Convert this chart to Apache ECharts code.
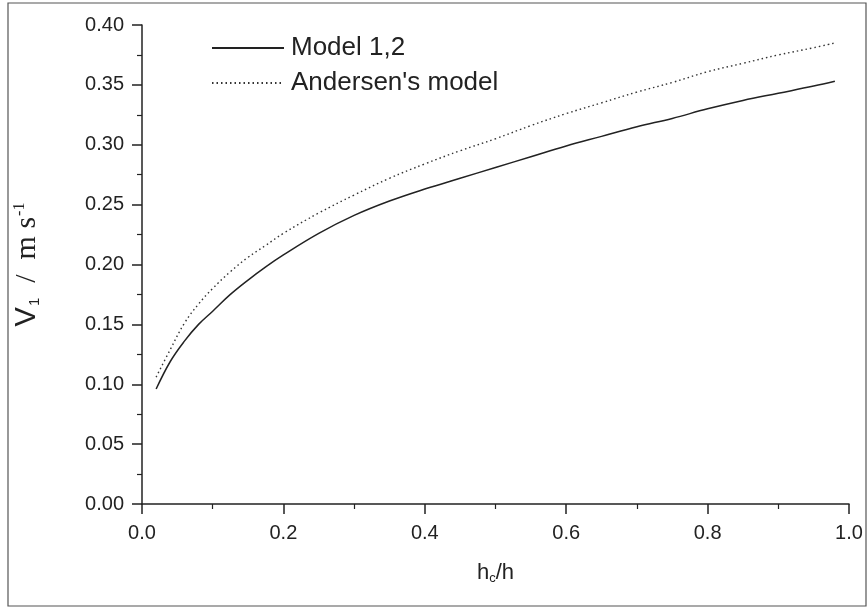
<!DOCTYPE html>
<html>
<head>
<meta charset="utf-8">
<script src="https://cdn.jsdelivr.net/npm/echarts@6/dist/echarts.min.js"></script>
<style>html,body{margin:0;padding:0;background:#fff}#c{width:868px;height:609px}</style>
</head>
<body>
<div id="c"></div>
<script>
var xValues = [0.02,0.04,0.06,0.08,0.1,0.125,0.15,0.175,0.2,0.25,0.3,0.35,0.4,0.45,0.5,0.55,0.6,0.65,0.7,0.75,0.8,0.85,0.9,0.95,0.98];
var model12 = [0.096,0.119,0.136,0.150,0.161,0.175,0.187,0.198,0.208,0.226,0.241,0.253,0.263,0.272,0.281,0.290,0.299,0.307,0.315,0.322,0.330,0.337,0.343,0.349,0.353];
var andersen = [0.106,0.129,0.151,0.167,0.180,0.194,0.206,0.216,0.226,0.243,0.258,0.272,0.284,0.295,0.305,0.316,0.326,0.335,0.344,0.352,0.361,0.368,0.375,0.381,0.385];
var seriesNames = ["Model 1,2", "Andersen's model"];

function pairs(xs, ys){ return xs.map(function(x,i){ return [x, ys[i]]; }); }

var chart = echarts.init(document.getElementById('c'), null, {renderer:'canvas'});
var sans = 'Liberation Sans, Arial, sans-serif';
var serif = 'Liberation Serif, Times New Roman, serif';
chart.setOption({
  animation: false,
  backgroundColor: '#fff',
  grid: {left: 142, right: 19, top: 25, bottom: 105, containLabel: false},
  graphic: [{
    type: 'rect', silent: true,
    shape: {x: 8, y: 3, width: 858, height: 603},
    style: {fill: 'none', stroke: '#555', lineWidth: 1.2}
  }],
  legend: {
    left: 206, top: 30, orient: 'vertical', itemGap: 9,
    itemWidth: 72, itemHeight: 26,
    itemStyle: {opacity: 0},
    textStyle: {fontFamily: sans, fontSize: 26, color: '#222', padding: [0,0,0,2]},
    data: seriesNames
  },
  xAxis: {
    type: 'value', min: 0, max: 1, interval: 0.2,
    name: 'h{sub|c}/h', nameLocation: 'middle', nameGap: 56,
    nameTextStyle: {fontFamily: sans, fontSize: 22, color: '#222',
      rich: {sub: {fontFamily: sans, fontSize: 13, verticalAlign: 'bottom', padding: [12,0,0,0], color:'#222'}}},
    axisLine: {lineStyle: {color: '#222', width: 1.5}},
    axisTick: {length: 10, lineStyle: {color: '#222', width: 1.5}},
    minorTick: {show: true, splitNumber: 2, length: 5, lineStyle: {color: '#222', width: 1.2}},
    splitLine: {show: false},
    axisLabel: {fontFamily: sans, fontSize: 20, color: '#222', margin: 19, formatter: function(v){return v.toFixed(1);}}
  },
  yAxis: {
    type: 'value', min: 0, max: 0.4, interval: 0.05,
    name: '{v|V}{sub|1}{s|  /  m s}{sup|-1}', nameLocation: 'middle', nameGap: 100, nameRotate: 90,
    nameTextStyle: {fontFamily: sans, fontSize: 28, color: '#222',
      rich: {
        v: {fontFamily: sans, fontSize: 29, color: '#222'},
        sub: {fontFamily: sans, fontSize: 15, color: '#222', verticalAlign: 'bottom', padding: [14,0,0,1]},
        s: {fontFamily: serif, fontSize: 30, color: '#222'},
        sup: {fontFamily: serif, fontSize: 16, color: '#222', verticalAlign: 'top', padding: [0,0,14,1]}
      }},
    axisLine: {show: true, lineStyle: {color: '#222', width: 1.5}},
    axisTick: {show: true, length: 10, lineStyle: {color: '#222', width: 1.5}},
    minorTick: {show: true, splitNumber: 2, length: 5, lineStyle: {color: '#222', width: 1.2}},
    splitLine: {show: false},
    axisLabel: {fontFamily: sans, fontSize: 20, color: '#222', margin: 18, formatter: function(v){return v.toFixed(2);}}
  },
  series: [
    {name: seriesNames[0], type: 'line', data: pairs(xValues, model12), symbol: 'none', smooth: 0.4,
     lineStyle: {color: '#222', width: 1.5, type: 'solid'}, itemStyle: {color: '#222'}},
    {name: seriesNames[1], type: 'line', data: pairs(xValues, andersen), symbol: 'none', smooth: 0.4,
     lineStyle: {color: '#333', width: 1.4, type: [1.5, 3]}, itemStyle: {color: '#333'}}
  ]
});
</script>
</body>
</html>
